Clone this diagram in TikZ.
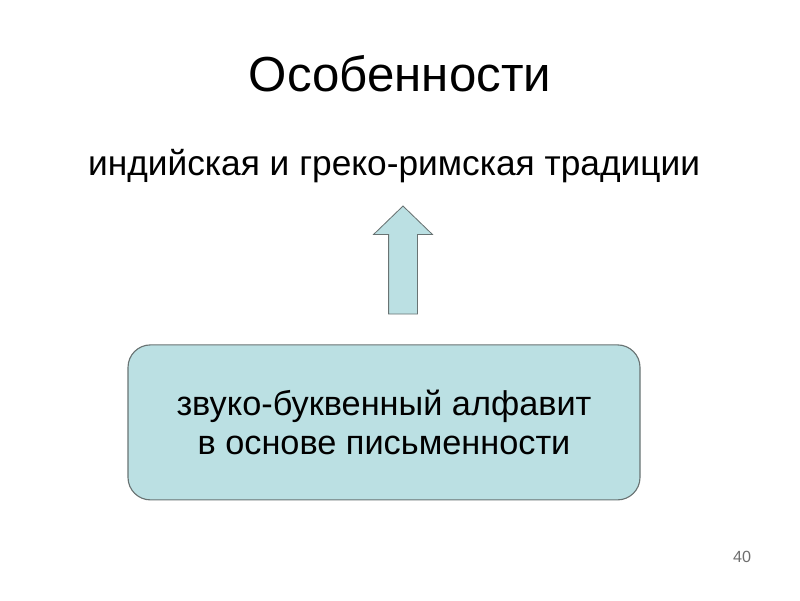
\documentclass[tikz,border=0pt]{standalone}
\usepackage{fontspec}
\setmainfont{Liberation Sans}
\definecolor{boxfill}{RGB}{187,224,227}
\definecolor{boxline}{RGB}{105,115,115}
\definecolor{numgray}{RGB}{110,110,110}
\usetikzlibrary{positioning,shapes.arrows}

\begin{document}
\begin{tikzpicture}[
  every node/.style={text=black},
  textbox/.style={draw=boxline,fill=boxfill,rounded corners=16pt,line width=0.8pt,
    minimum width=12.8cm,minimum height=3.875cm,align=center,
    font=\fontsize{24.4}{27.5}\selectfont},
  uparrow/.style={single arrow,draw=boxline,fill=boxfill,line width=0.6pt,
    shape border rotate=90,minimum height=2.7cm,minimum width=1.45cm,
    single arrow head extend=0.375cm,single arrow tip angle=92,inner sep=0.35cm},
]
  \useasboundingbox (0,0) rectangle (20,15);

  % Title
  \node[font=\fontsize{35}{40}\selectfont] (title) at (10,13.15) {Особенности};

  % Subtitle
  \node[font=\fontsize{25.1}{30}\selectfont] (trad) at (9.85,10.85)
    {индийская и греко-римская традиции};

  % Box
  \node[textbox] (alpha) at (9.6,4.44)
    {звуко-буквенный алфавит\\в основе письменности};

  % Arrow
  \node[uparrow] (up) at (10.075,8.325) {};

  % Page number
  \node[font=\fontsize{11.5}{14}\selectfont,text=numgray] (num) at (18.55,1.07) {40};
\end{tikzpicture}
\end{document}
